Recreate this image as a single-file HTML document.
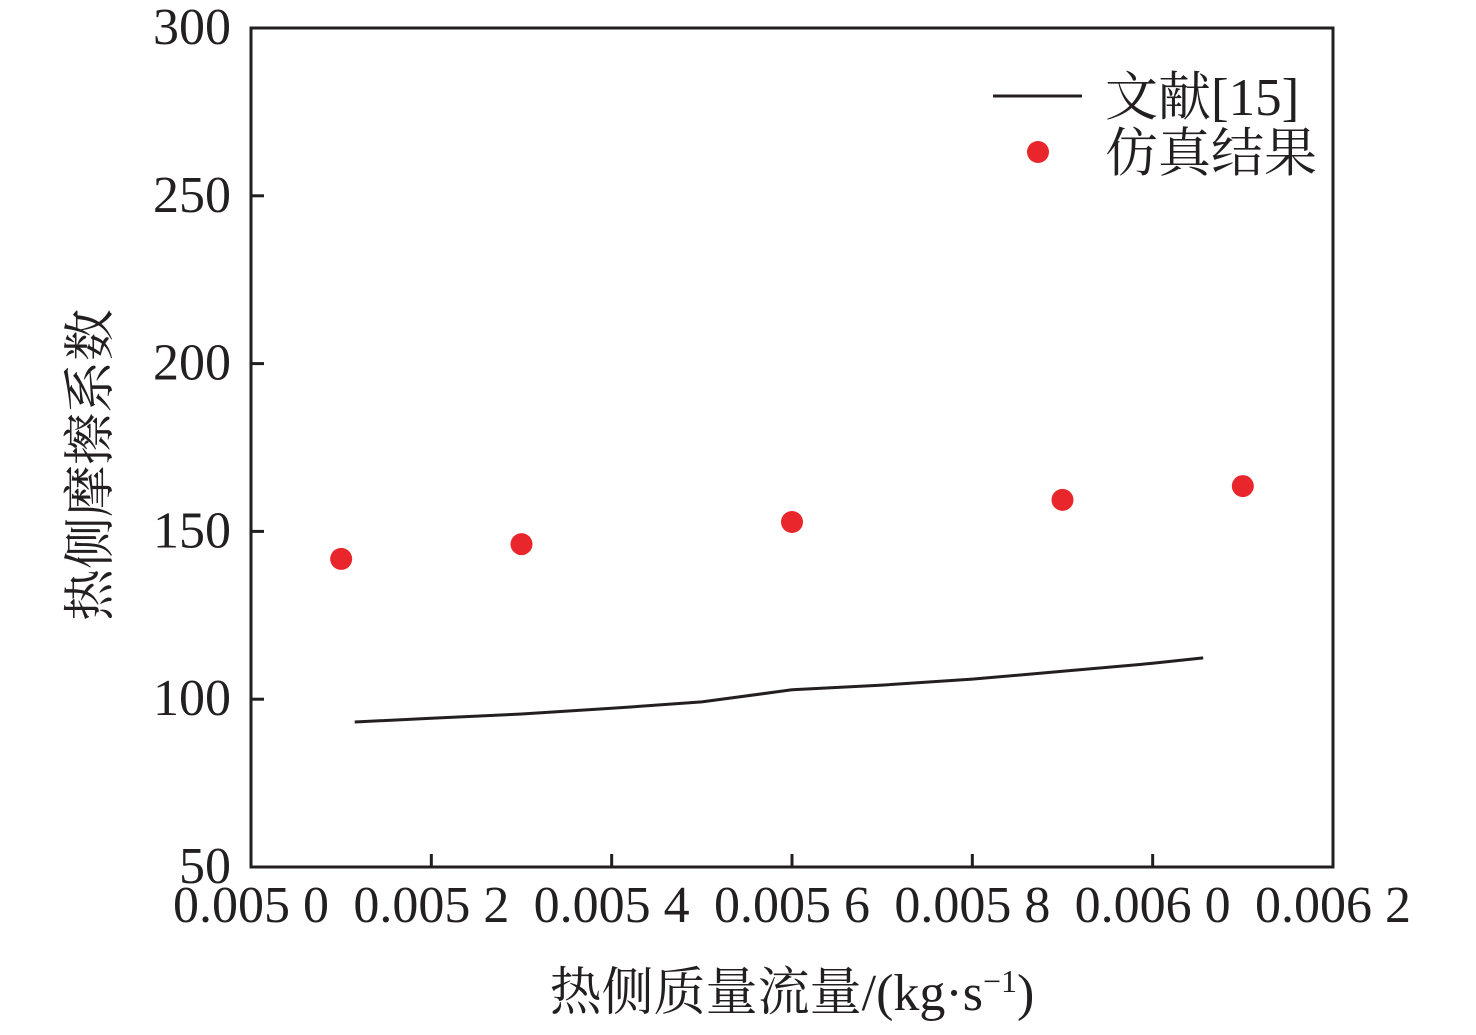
<!DOCTYPE html>
<html><head><meta charset="utf-8"><style>
html,body{margin:0;padding:0;background:#fff;}
svg{display:block;font-family:"Liberation Serif","Noto Serif CJK SC","Noto Sans CJK SC",serif;}
</style></head><body>
<svg id="chart" width="1476" height="1035" viewBox="0 0 1476 1035">
<g id="axes"></g>
<g id="marks"></g>
<g>
<line x1="993" y1="96" x2="1082" y2="96" stroke="#231f20" stroke-width="3"/>
<text x="1105" y="115" font-size="53" fill="#231f20">文献[15]</text>
<circle cx="1038" cy="152" r="11" fill="#e8262b"/>
<text x="1105" y="171" font-size="53" fill="#231f20">仿真结果</text>
</g>
<text transform="translate(108,465) rotate(-90)" text-anchor="middle" font-size="52" fill="#231f20">热侧摩擦系数</text>
<text x="792" y="1010" text-anchor="middle" font-size="52" fill="#231f20">热侧质量流量/(kg·s<tspan dy="-18" font-size="32">−1</tspan><tspan dy="18">)</tspan></text>
</svg>
<script>
const xTicks=[0.0050,0.0052,0.0054,0.0056,0.0058,0.0060,0.0062];
const xTickLabels=["0.005 0","0.005 2","0.005 4","0.005 6","0.005 8","0.006 0","0.006 2"];
const yTicks=[50,100,150,200,250,300];
const yTickLabels=["50","100","150","200","250","300"];
const refX=[0.005115,0.0052,0.0053,0.0054,0.0055,0.0056,0.0057,0.0058,0.0059,0.0060,0.006056];
const refY=[93.2,94.3,95.6,97.3,99.2,102.8,104.2,106.0,108.3,110.7,112.3];
const simX=[0.0051,0.0053,0.0056,0.0059,0.0061];
const simY=[141.8,146.2,152.8,159.4,163.5];

const L=251,R=1333,T=28,B=867;
const xs=v=>L+(v-0.0050)/(0.0062-0.0050)*(R-L);
const ys=v=>B-(v-50)/(300-50)*(B-T);
const NS="http://www.w3.org/2000/svg";
const axes=document.getElementById('axes'),marks=document.getElementById('marks');
function mk(tag,attrs,parent){const e=document.createElementNS(NS,tag);for(const k in attrs)e.setAttribute(k,attrs[k]);parent.appendChild(e);return e;}
const frame=mk('rect',{x:L,y:T,width:R-L,height:B-T,fill:'none',stroke:'#231f20','stroke-width':3},axes);


xTicks.forEach((v,i)=>{
  const t=mk('line',{x1:xs(v),x2:xs(v),y1:B,y2:B-13,stroke:'#231f20','stroke-width':3},axes);
  
  
  const l=mk('text',{x:xs(v),y:B+55,'text-anchor':'middle','font-size':52,fill:'#231f20'},axes);
  l.textContent=xTickLabels[i];
  
  
});
yTicks.forEach((v,i)=>{
  const t=mk('line',{x1:L,x2:L+13,y1:ys(v),y2:ys(v),stroke:'#231f20','stroke-width':3},axes);
  
  
  const l=mk('text',{x:231,y:ys(v)+16,'text-anchor':'end','font-size':52,fill:'#231f20'},axes);
  l.textContent=yTickLabels[i];
  
  
});
const pts=refX.map((x,i)=>xs(x).toFixed(1)+','+ys(refY[i]).toFixed(1)).join(' ');
const pl=mk('polyline',{points:pts,fill:'none',stroke:'#231f20','stroke-width':3},marks);


simX.forEach((x,i)=>{
  const c=mk('circle',{cx:xs(x),cy:ys(simY[i]),r:11,fill:'#e8262b'},marks);
  
  
});
</script>
</body></html>
